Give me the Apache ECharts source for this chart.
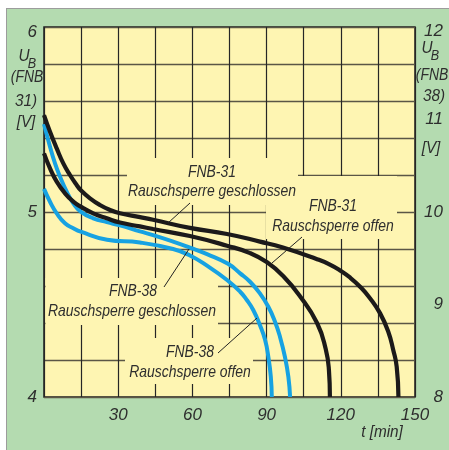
<!DOCTYPE html>
<html><head><meta charset="utf-8">
<script src="https://cdn.jsdelivr.net/npm/echarts@6/dist/echarts.min.js"></script>
<style>
html,body{margin:0;padding:0;background:#fff;}
#wrap{position:relative;width:449px;height:450px;overflow:hidden;}
#bg{position:absolute;left:6px;top:8px;width:443px;height:442px;background:#b4dbb0;border-left:1px solid #9c9c9c;border-top:1px solid #9c9c9c;}
#chart{position:absolute;left:0;top:0;width:449px;height:450px;}
</style></head>
<body><div id="wrap"><div id="bg"></div><div id="chart"></div></div>
<script>
// FNB-31, Rauschsperre geschlossen (left axis, V)
const tFNB31closed = [0, 2.43, 5.14, 7.8, 10.5, 13.2, 14.8, 18.6, 22.6, 26.7, 30.7, 38.8, 44.1, 59, 74, 87.3, 96.6, 110.4, 115.6, 119.7, 123.7, 127.8, 131.8, 135.9, 139.2, 141.2, 142.6, 143.3];
const vFNB31closed = [5.524, 5.434, 5.344, 5.263, 5.2, 5.146, 5.119, 5.074, 5.038, 5.011, 4.993, 4.972, 4.958, 4.914, 4.881, 4.840, 4.808, 4.745, 4.716, 4.684, 4.646, 4.596, 4.534, 4.452, 4.353, 4.254, 4.164, 4.0];
// FNB-31, Rauschsperre offen (left axis, V)
const tFNB31open = [0, 2.43, 5.14, 8.49, 11.85, 14.84, 19.9, 25.4, 30.7, 38.8, 44.1, 59, 74, 83.3, 90.2, 96.6, 103.5, 110.4, 113.9, 115.2, 115.6];
const vFNB31open = [5.317, 5.236, 5.164, 5.101, 5.056, 5.029, 4.993, 4.966, 4.943, 4.922, 4.908, 4.870, 4.818, 4.778, 4.728, 4.655, 4.545, 4.40, 4.26, 4.146, 4.0];
// FNB-38, Rauschsperre geschlossen (right axis, V)
const tFNB38closed = [0, 2.43, 4.45, 6.47, 9.18, 11.85, 14.84, 19.9, 25.4, 30.7, 38.8, 44.1, 52.2, 59, 65.9, 74.4, 79.3, 83.3, 87.3, 90.7, 93.4, 95.4, 97.4, 98.8, 99.5];
const vFNB38closed = [10.95, 10.706, 10.526, 10.382, 10.22, 10.094, 10.003, 9.932, 9.89, 9.855, 9.79, 9.75, 9.68, 9.615, 9.545, 9.44, 9.337, 9.246, 9.12, 8.976, 8.814, 8.651, 8.435, 8.219, 8.0];
// FNB-38, Rauschsperre offen (right axis, V)
const tFNB38open = [0, 2.43, 5.14, 8.49, 11.85, 14.84, 25.5, 38.8, 52.2, 59, 65.9, 74, 79.3, 82.0, 84.6, 87.3, 89.4, 90.7, 91.7, 92.1];
const vFNB38open = [10.25, 10.111, 9.986, 9.878, 9.824, 9.787, 9.70, 9.67, 9.60, 9.53, 9.42, 9.265, 9.138, 9.049, 8.941, 8.778, 8.616, 8.435, 8.219, 8.0];

const xTicks = [30, 60, 90, 120, 150];
const leftTicks = [4, 5, 6];
const rightTicks = [8, 9, 10, 11, 12];

const FONT = "'Liberation Sans','Arimo',sans-serif";
const TXT = '#2e2e2e';
const BLACK = '#1c1a1a';
const BLUE = '#17a2e2';
const YEL = '#fef5b2';
const SX = 0.82;

const zip = (t, v) => t.map((x, i) => [x, v[i]]);

function txt(text, x, y, opt, sx) {
  return {
    type: 'text', z: 10, x, y, scaleX: sx || SX,
    style: Object.assign({text, x: 0, y: 0, align: 'center', verticalAlign: 'middle',
      fontFamily: FONT, fontStyle: 'italic', fontSize: 17, fill: TXT}, opt || {})
  };
}
function box(x, y, w, h) {
  return {type: 'rect', z: 1, shape: {x, y, width: w, height: h}, style: {fill: YEL}};
}
function lead(x1, y1, x2, y2) {
  return {type: 'line', z: 10, shape: {x1, y1, x2, y2}, style: {stroke: '#222', lineWidth: 1}};
}

const chart = echarts.init(document.getElementById('chart'), null, {renderer: 'canvas'});
const labelStyle = {fontFamily: FONT, fontStyle: 'italic', fontSize: 17, color: TXT};

chart.setOption({
  backgroundColor: 'transparent',
  animation: false,
  grid: {left: 44, right: 34, top: 27, bottom: 53, show: true,
    backgroundColor: YEL, borderColor: '#1e1e1e', borderWidth: 1.5},
  xAxis: {type: 'value', min: 0, max: 150, interval: 15,
    axisLine: {show: false}, axisTick: {show: false},
    splitLine: {show: true, lineStyle: {color: '#262626', width: 1.2}},
    axisLabel: Object.assign({}, labelStyle, {margin: 10,
      formatter: v => xTicks.includes(Math.round(v)) && Math.abs(v - Math.round(v)) < 1e-6 ? String(Math.round(v)) : ''})
  },
  yAxis: [
    {type: 'value', min: 4, max: 6, interval: 0.2, position: 'left',
      axisLine: {show: false}, axisTick: {show: false},
      splitLine: {show: true, lineStyle: {color: '#5a5646', width: 1.3}},
      axisLabel: Object.assign({}, labelStyle, {margin: 7,
        formatter: v => {
          const r = Math.round(v);
          if (Math.abs(v - r) > 1e-6 || !leftTicks.includes(r)) return '';
          return r === 6 ? '{t|6}' : String(r);
        },
        rich: {t: {fontFamily: FONT, fontStyle: 'italic', fontSize: 17, color: TXT, padding: [10, 0, 0, 0]}}})
    },
    {type: 'value', min: 8, max: 12, interval: 1, position: 'right',
      axisLine: {show: false}, axisTick: {show: false}, splitLine: {show: false},
      axisLabel: Object.assign({}, labelStyle, {margin: 28, align: 'right',
        formatter: v => {
          const r = Math.round(v);
          if (Math.abs(v - r) > 1e-6 || !rightTicks.includes(r)) return '';
          return r === 12 ? '{t|12}' : String(r);
        },
        rich: {t: {fontFamily: FONT, fontStyle: 'italic', fontSize: 17, color: TXT, padding: [8, 0, 0, 0]}}})
    }
  ],
  series: [
    {name: 'FNB-31 Rauschsperre geschlossen', type: 'line', yAxisIndex: 0, z: 4, showSymbol: false, smooth: 0.5,
      data: zip(tFNB31closed, vFNB31closed), lineStyle: {color: BLACK, width: 4.2}},
    {name: 'FNB-31 Rauschsperre offen', type: 'line', yAxisIndex: 0, z: 4, showSymbol: false, smooth: 0.5,
      data: zip(tFNB31open, vFNB31open), lineStyle: {color: BLACK, width: 4.2}},
    {name: 'FNB-38 Rauschsperre geschlossen', type: 'line', yAxisIndex: 1, z: 3, showSymbol: false, smooth: 0.5,
      data: zip(tFNB38closed, vFNB38closed), lineStyle: {color: BLUE, width: 4}},
    {name: 'FNB-38 Rauschsperre offen', type: 'line', yAxisIndex: 1, z: 3, showSymbol: false, smooth: 0.5,
      data: zip(tFNB38open, vFNB38open), lineStyle: {color: BLUE, width: 4}}
  ],
  graphic: [
    box(127, 158, 171, 47),
    box(266, 176, 131, 63),
    box(45.5, 278, 172.5, 47),
    box(125, 338, 128, 46),
    lead(168, 223, 190, 203),
    lead(272, 263, 302, 237),
    lead(164, 287, 189, 249),
    lead(218, 353, 257, 318),
    txt('FNB-31', 212, 172),
    txt('Rauschsperre geschlossen', 212, 191),
    txt('FNB-31', 333, 206),
    txt('Rauschsperre offen', 333, 226),
    txt('FNB-38', 133, 291),
    txt('Rauschsperre geschlossen', 132, 311),
    txt('FNB-38', 190, 352),
    txt('Rauschsperre offen', 190, 372),
    txt('t [min]', 382, 432, null, 0.9),
    // left axis title
    txt('U', 24, 56, null, 0.9),
    txt('B', 32, 64, {fontSize: 14}, 0.9),
    txt('(FNB', 27, 77),
    txt('31)', 26, 101, null, 0.9),
    txt('[V]', 26, 122, null, 0.9),
    // right axis title
    txt('U', 427, 48, null, 0.9),
    txt('B', 435, 56, {fontSize: 14}, 0.9),
    txt('(FNB', 432, 75),
    txt('38)', 434, 96, null, 0.9),
    txt('[V]', 431, 148, null, 0.9)
  ]
});
</script></body></html>
